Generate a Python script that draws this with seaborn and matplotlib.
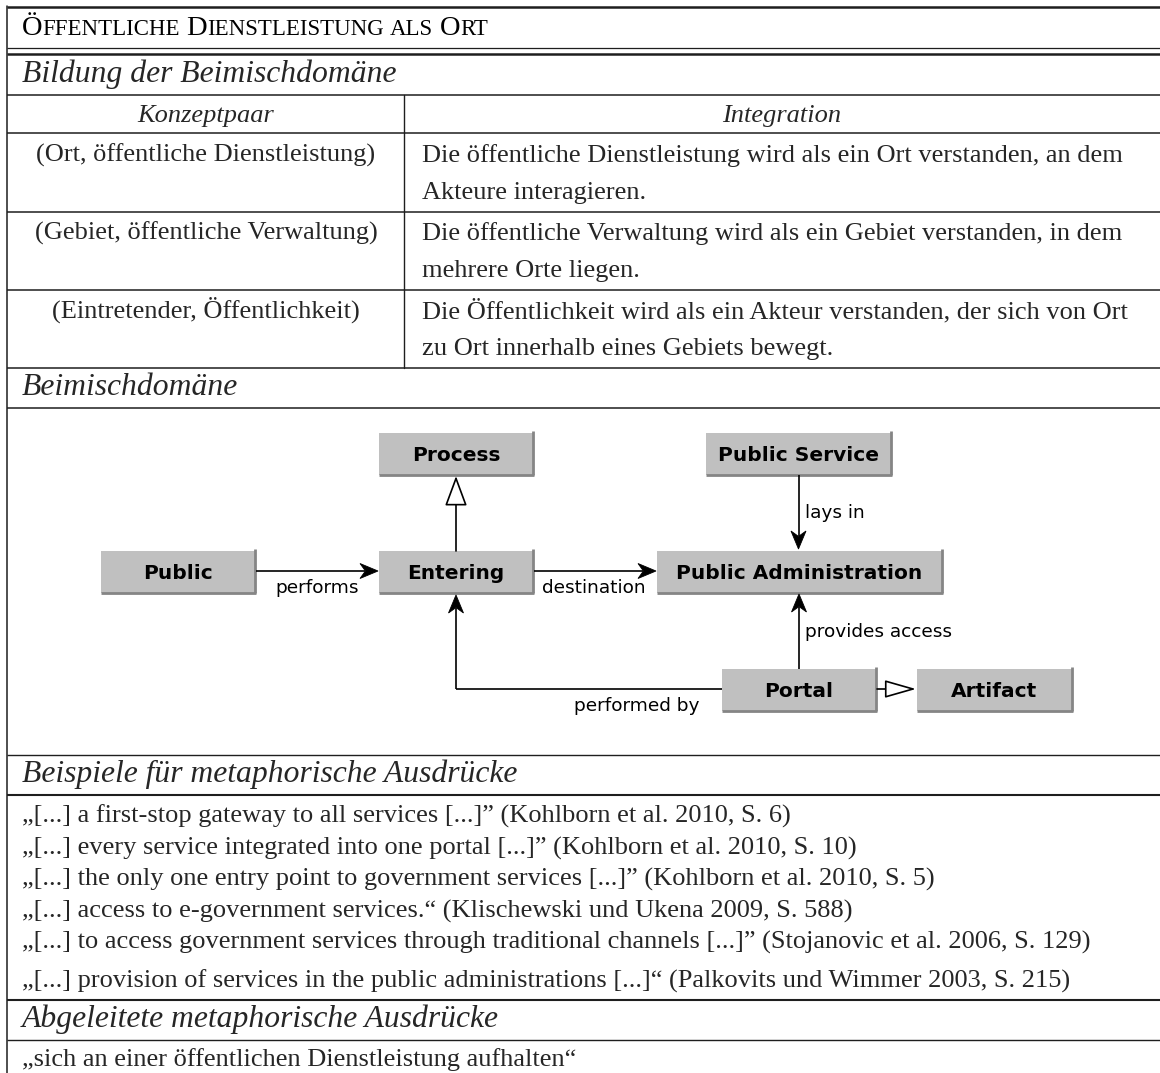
import matplotlib
matplotlib.use("Agg")
import matplotlib.pyplot as plt
import seaborn as sns
import numpy as np
from matplotlib.patches import Rectangle, FancyArrowPatch, Polygon

sns.set_style("white")
plt.rcParams["font.family"] = ["Liberation Serif", "DejaVu Serif"]

# ---- content ---------------------------------------------------------
title_words = ["Öffentliche", "Dienstleistung", "als", "Ort"]
sections = ["Bildung der Beimischdomäne", "Beimischdomäne",
            "Beispiele für metaphorische Ausdrücke",
            "Abgeleitete metaphorische Ausdrücke"]
col_heads = ["Konzeptpaar", "Integration"]
pairs = ["(Ort, öffentliche Dienstleistung)",
         "(Gebiet, öffentliche Verwaltung)",
         "(Eintretender, Öffentlichkeit)"]
integration = [
    ["Die öffentliche Dienstleistung wird als ein Ort verstanden, an dem",
     "Akteure interagieren."],
    ["Die öffentliche Verwaltung wird als ein Gebiet verstanden, in dem",
     "mehrere Orte liegen."],
    ["Die Öffentlichkeit wird als ein Akteur verstanden, der sich von Ort",
     "zu Ort innerhalb eines Gebiets bewegt."],
]
nodes = ["Process", "Public Service", "Public", "Entering",
         "Public Administration", "Portal", "Artifact"]
edges = [
    ("Public", "Entering", "performs", "assoc"),
    ("Entering", "Public Administration", "destination", "assoc"),
    ("Entering", "Process", "", "inherit"),
    ("Public Service", "Public Administration", "lays in", "assoc"),
    ("Portal", "Public Administration", "provides access", "assoc"),
    ("Portal", "Entering", "performed by", "assoc"),
    ("Portal", "Artifact", "", "inherit"),
]
examples = [
    "„[...] a first-stop gateway to all services [...]” (Kohlborn et al. 2010, S. 6)",
    "„[...] every service integrated into one portal [...]” (Kohlborn et al. 2010, S. 10)",
    "„[...] the only one entry point to government services [...]” (Kohlborn et al. 2010, S. 5)",
    "„[...] access to e-government services.“ (Klischewski und Ukena 2009, S. 588)",
    "„[...] to access government services through traditional channels [...]” (Stojanovic et al. 2006, S. 129)",
    "„[...] provision of services in the public administrations [...]“ (Palkovits und Wimmer 2003, S. 215)",
]
derived = ["„sich an einer öffentlichen Dienstleistung aufhalten“"]

# ---- layout (pixels) -------------------------------------------------
boxes = {
    "Process": (379, 433, 154, 42),
    "Public Service": (706, 433, 185, 42),
    "Public": (101, 551, 154, 42),
    "Entering": (379, 551, 154, 42),
    "Public Administration": (657, 551, 285, 42),
    "Portal": (722, 669, 154, 42),
    "Artifact": (917, 669, 155, 42),
}
label_pos = {
    "performs": (317, 593, "center"),
    "destination": (594, 593, "center"),
    "lays in": (805, 518, "left"),
    "provides access": (805, 637, "left"),
    "performed by": (637, 711, "center"),
}

W, H = 1160, 1073
fig = plt.figure(figsize=(W / 100, H / 100), dpi=100)
ax = fig.add_axes([0, 0, 1, 1])
ax.set_xlim(0, W)
ax.set_ylim(H, 0)
ax.axis("off")

ink = "#1e1e1e"
body = 19
head = 22.8


def hline(y, lw, x0=7):
    ax.plot([x0, W], [y, y], color=ink, lw=lw, solid_capstyle="butt")


# frame lines
for y, lw in [(7, 1.8), (48, 0.9), (54, 1.8), (95, 1.1), (133, 1.1), (212, 1.1),
              (290, 1.1), (368, 1.1), (408, 1.1), (755, 1.0), (795, 1.5),
              (1000, 1.5), (1040, 1.0)]:
    hline(y, lw)
ax.plot([7, 7], [6, H], color=ink, lw=1.1)
ax.plot([404, 404], [95, 368], color=ink, lw=1.0)

# title in small caps
fig.canvas.draw()
rend = fig.canvas.get_renderer()
x = 22
for word in title_words:
    parts = []
    if word[0].isupper():
        parts.append((word[0], 20.5))
        parts.append((word[1:].upper(), 16.5))
    else:
        parts.append((word.upper(), 16.5))
    for s, fs in parts:
        t = ax.text(x, 35, s, fontsize=fs, va="baseline", ha="left", color="black")
        x += t.get_window_extent(renderer=rend).width
    x += 6.5

# section headings
for s, yb in zip(sections, [82, 395, 782, 1027]):
    ax.text(22, yb, s, fontsize=head, style="italic", va="baseline")

# concept table
ax.text(206, 122, col_heads[0], fontsize=body, style="italic", ha="center", va="baseline")
ax.text(782, 122, col_heads[1], fontsize=body, style="italic", ha="center", va="baseline")
for i, (p, lines) in enumerate(zip(pairs, integration)):
    yb = 162 + i * 78
    ax.text(206, yb, p, fontsize=body, ha="center", va="baseline")
    for j, ln in enumerate(lines):
        ax.text(422, yb + j * 37, ln, fontsize=body, ha="left", va="baseline")

# examples
ex_base = [823, 854.5, 886, 917.5, 949, 988]
for s, yb in zip(examples, ex_base):
    ax.text(22, yb, s, fontsize=body, va="baseline")
ax.text(22, 1066, derived[0], fontsize=body, va="baseline")

# ---- diagram ---------------------------------------------------------
for name in nodes:
    x0, y0, w, h = boxes[name]
    ax.add_patch(Rectangle((x0, y0), w, h, fc="#c0c0c0", ec="none", zorder=2))
    ax.plot([x0 + w, x0 + w], [y0 - 2, y0 + h], color="#858585", lw=2, zorder=3,
            solid_capstyle="butt")
    ax.plot([x0, x0 + w + 1], [y0 + h, y0 + h], color="#858585", lw=2, zorder=3,
            solid_capstyle="butt")
    ax.text(x0 + w / 2, y0 + h / 2 + 7, name, family="DejaVu Sans", weight="bold",
            fontsize=14.5, ha="center", va="baseline", zorder=4, color="black")


def center(n):
    x0, y0, w, h = boxes[n]
    return x0 + w / 2, y0 + h / 2


def stealth(a, b, L=18, hw=7.5, notch=0.3):
    a, b = np.array(a, float), np.array(b, float)
    d = (b - a) / np.linalg.norm(b - a)
    n = np.array([-d[1], d[0]])
    base = b - L * d
    inner = b - (1 - notch) * L * d
    ax.plot([a[0], inner[0]], [a[1], inner[1]], color="black", lw=1.2, zorder=5,
            solid_capstyle="butt")
    ax.add_patch(Polygon([b, base + hw * n, inner, base - hw * n], closed=True,
                         fc="black", ec="black", lw=0.6, zorder=6))


for src, dst, lab, kind in edges:
    sx0, sy0, sw, sh = boxes[src]
    dx0, dy0, dw, dh = boxes[dst]
    scx, scy = center(src)
    dcx, dcy = center(dst)
    if abs(scy - dcy) < 1:
        yy = scy - 1
        a, b = (sx0 + sw + 1, yy), (dx0 - 1, yy)
    elif abs(scx - dcx) < 6:
        xx = scx
        if dcy < scy:
            a, b = (xx, sy0), (xx, dy0 + dh + 1)
        else:
            a, b = (xx, sy0 + sh), (xx, dy0 - 2)
    else:
        yy = scy - 1
        ax.plot([sx0, dcx], [yy, yy], color="black", lw=1.2, solid_capstyle="butt")
        a, b = (dcx, yy), (dcx, dy0 + dh + 2)
    if kind == "inherit":
        style = "-|>,head_length=1.35,head_width=0.5" if abs(scy - dcy) > 1 \
            else "-|>,head_length=1.4,head_width=0.4"
        arr = FancyArrowPatch(a, b, arrowstyle=style, mutation_scale=14,
                              fc="white", ec="black", lw=1.2, shrinkA=0, shrinkB=0,
                              zorder=5)
        ax.add_patch(arr)
    else:
        stealth(a, b)
    if lab:
        lx, ly, ha = label_pos[lab]
        ax.text(lx, ly, lab, family="DejaVu Sans", fontsize=13.3, ha=ha,
                va="baseline", zorder=4, color="black")

fig.savefig("out.png", dpi=100)
